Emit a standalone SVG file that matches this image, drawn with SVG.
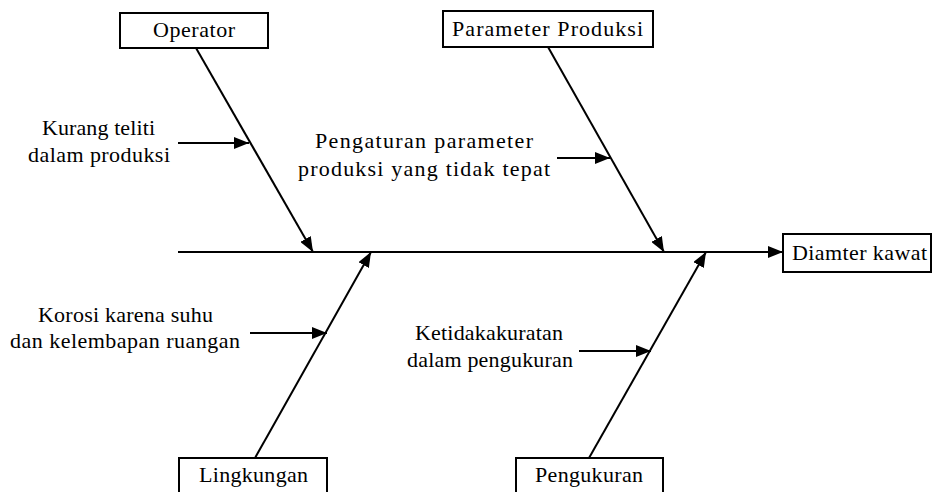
<svg xmlns="http://www.w3.org/2000/svg" width="934" height="492" viewBox="0 0 934 492">
<defs>
<marker id="ah" markerUnits="userSpaceOnUse" markerWidth="16" markerHeight="12" refX="15" refY="6" orient="auto">
<path d="M0,0 L15,6 L0,12 Z" fill="#000"/>
</marker>
<style>
.box{fill:#fff;stroke:#000;stroke-width:2}
.ln{fill:none;stroke:#000;stroke-width:2;marker-end:url(#ah)}
</style>
</defs>
<rect width="934" height="492" fill="#fff"/>
<g id="connectors">
<path class="ln" d="M178,252 L783,252"/>
<path class="ln" d="M196,48 L313,252"/>
<path class="ln" d="M548,47 L664,252"/>
<path class="ln" d="M255,458 L371,252"/>
<path class="ln" d="M589,458 L706,252"/>
<path class="ln" d="M178,143 L249,143"/>
<path class="ln" d="M557,158 L610,158"/>
<path class="ln" d="M250,333 L327,333"/>
<path class="ln" d="M579,351 L651,351"/>
</g>
<g font-family="'Liberation Serif', 'Times New Roman', serif" font-size="22" fill="#000" lengthAdjust="spacing">
<g id="operator"><rect class="box" x="120" y="13" width="148" height="35"/><text x="153" y="37" textLength="82">Operator</text></g>
<g id="parameter"><rect class="box" x="443" y="11" width="210" height="36"/><text x="452" y="36" textLength="191">Parameter Produksi</text></g>
<g id="diamter"><rect class="box" x="783" y="234" width="148" height="38"/><text x="792" y="260" textLength="135">Diamter kawat</text></g>
<g id="lingkungan"><rect class="box" x="179" y="458" width="148" height="40"/><text x="199" y="482" textLength="109">Lingkungan</text></g>
<g id="pengukuran"><rect class="box" x="516" y="458" width="147" height="40"/><text x="535" y="482" textLength="108">Pengukuran</text></g>
<g id="cause-operator"><text x="42" y="135" textLength="113">Kurang teliti</text><text x="28" y="162" textLength="142">dalam produksi</text></g>
<g id="cause-parameter"><text x="315" y="148" textLength="218">Pengaturan parameter</text><text x="298" y="176" textLength="252">produksi yang tidak tepat</text></g>
<g id="cause-lingkungan"><text x="38" y="322" textLength="175">Korosi karena suhu</text><text x="10" y="348" textLength="230">dan kelembapan ruangan</text></g>
<g id="cause-pengukuran"><text x="415" y="340" textLength="148">Ketidakakuratan</text><text x="407" y="367" textLength="166">dalam pengukuran</text></g>
</g>
</svg>
